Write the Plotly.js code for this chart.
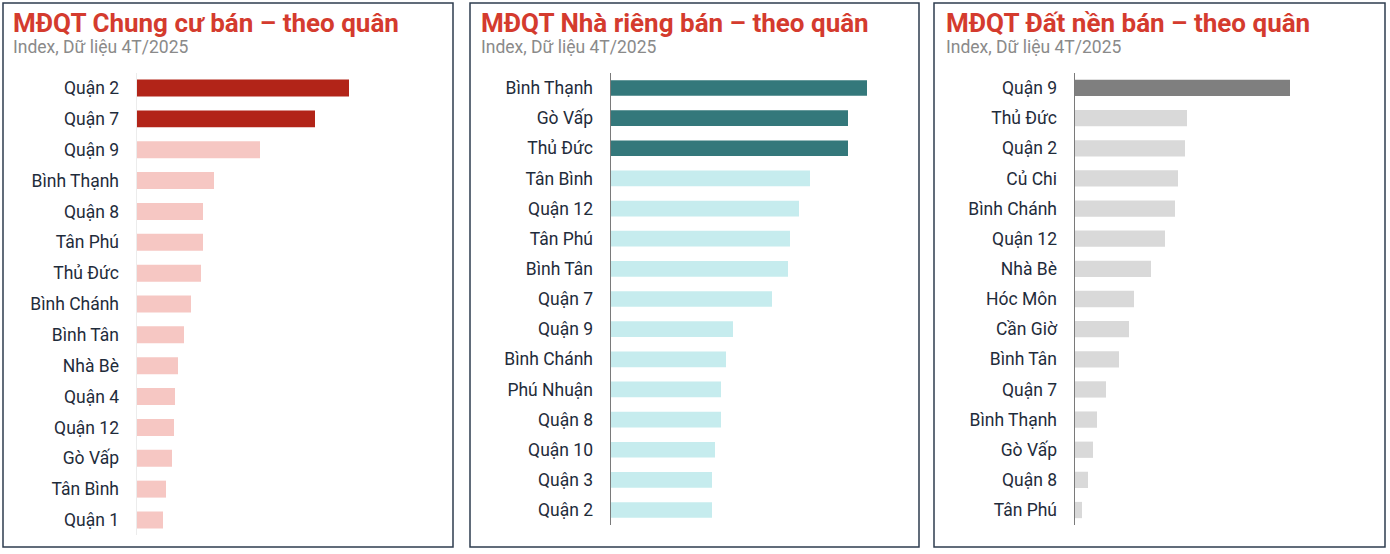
<!DOCTYPE html>
<html>
<head>
<meta charset="utf-8">
<script src="https://cdn.plot.ly/plotly-3.0.1.min.js"></script>
<style>
  html, body { margin: 0; padding: 0; background: #ffffff; }
  #chart { width: 1390px; height: 554px; }
</style>
</head>
<body>
<div id="chart"></div>
<script>
// ---- Data (index values) ----
const chungCuDistricts = ['Quận 2','Quận 7','Quận 9','Bình Thạnh','Quận 8','Tân Phú','Thủ Đức','Bình Chánh','Bình Tân','Nhà Bè','Quận 4','Quận 12','Gò Vấp','Tân Bình','Quận 1'];
const chungCuValues    = [212,178,123,77,66,66,64,54,47,41,38,37,35,29,26];
const chungCuHighlight = 2;

const nhaRiengDistricts = ['Bình Thạnh','Gò Vấp','Thủ Đức','Tân Bình','Quận 12','Tân Phú','Bình Tân','Quận 7','Quận 9','Bình Chánh','Phú Nhuận','Quận 8','Quận 10','Quận 3','Quận 2'];
const nhaRiengValues    = [256,237,237,199,188,179,177,161,122,115,110,110,104,101,101];
const nhaRiengHighlight = 3;

const datNenDistricts = ['Quận 9','Thủ Đức','Quận 2','Củ Chi','Bình Chánh','Quận 12','Nhà Bè','Hóc Môn','Cần Giờ','Bình Tân','Quận 7','Bình Thạnh','Gò Vấp','Quận 8','Tân Phú'];
const datNenValues    = [215,112,110,103,100,90,76,59,54,44,31,22,18,13,7];
const datNenHighlight = 1;

const panelTitles = ['MĐQT Chung cư bán – theo quân','MĐQT Nhà riêng bán – theo quân','MĐQT Đất nền bán – theo quân'];
const panelSubtitle = 'Index, Dữ liệu 4T/2025';

// ---- Layout helpers ----
const W = 1390, H = 554;
const px = v => v / W;
const py = v => 1 - v / H;

function colors(n, k, dark, light) {
  return Array.from({length: n}, (_, i) => i < k ? dark : light);
}

const traces = [
  {
    type: 'bar', orientation: 'h',
    y: chungCuDistricts, x: chungCuValues,
    marker: { color: colors(chungCuValues.length, chungCuHighlight, '#b22418', '#f6c7c3') },
    width: 0.55, xaxis: 'x', yaxis: 'y', hoverinfo: 'x+y'
  },
  {
    type: 'bar', orientation: 'h',
    y: nhaRiengDistricts, x: nhaRiengValues,
    marker: { color: colors(nhaRiengValues.length, nhaRiengHighlight, '#34787b', '#c6ecee') },
    width: 0.52, xaxis: 'x2', yaxis: 'y2', hoverinfo: 'x+y'
  },
  {
    type: 'bar', orientation: 'h',
    y: datNenDistricts, x: datNenValues,
    marker: { color: colors(datNenValues.length, datNenHighlight, '#7f7f7f', '#d9d9d9') },
    width: 0.54, xaxis: 'x3', yaxis: 'y3', hoverinfo: 'x+y'
  }
];

const tickFont = { family: 'Roboto, sans-serif', size: 17.5, color: '#1f2c3b' };

function xAxis(d0, d1, range) {
  return { domain: [px(d0), px(d1)], range: [0, range], showgrid: false, zeroline: false,
           showticklabels: false, showline: false, ticks: '', fixedrange: true };
}
function yAxis(anchor, top, bottom, lineColor) {
  return { anchor: anchor, domain: [py(bottom), py(top)], type: 'category',
           autorange: 'reversed', showgrid: false, zeroline: false,
           showline: true, linecolor: lineColor, linewidth: 1.5,
           ticks: '', ticklabelstandoff: 13, tickfont: tickFont, fixedrange: true };
}

const boxes = [[3, 453], [470, 919], [934, 1385]];
const titleX = [11, 479, 944];

const shapes = boxes.map(b => ({
  type: 'rect', xref: 'paper', yref: 'paper',
  x0: px(b[0]), x1: px(b[1]), y0: py(547), y1: py(3),
  line: { color: '#2e3d4f', width: 1.5 }, fillcolor: 'rgba(0,0,0,0)'
}));

const annotations = [];
titleX.forEach((tx, i) => {
  annotations.push({
    xref: 'paper', yref: 'paper', x: px(tx), y: py(6), xanchor: 'left', yanchor: 'top',
    text: '<b>' + panelTitles[i] + '</b>', showarrow: false,
    font: { family: 'Roboto, sans-serif', size: 26, color: '#d43b2e' }
  });
  annotations.push({
    xref: 'paper', yref: 'paper', x: px(tx), y: py(35), xanchor: 'left', yanchor: 'top',
    text: panelSubtitle, showarrow: false,
    font: { family: 'Roboto, sans-serif', size: 17.5, color: '#8a8a8a' }
  });
});

const layout = {
  width: W, height: H,
  margin: { l: 0, r: 0, t: 0, b: 0 },
  paper_bgcolor: '#ffffff', plot_bgcolor: '#ffffff',
  showlegend: false, bargap: 0.45,
  xaxis:  xAxis(137, 440, 303),
  xaxis2: xAxis(611, 905, 294),
  xaxis3: xAxis(1075, 1370, 295),
  yaxis:  yAxis('x', 72.6, 535.4, '#ececec'),
  yaxis2: yAxis('x2', 72.9, 525.1, '#7a7a7a'),
  yaxis3: yAxis('x3', 72.9, 525.1, '#7a7a7a'),
  shapes: shapes,
  annotations: annotations
};

Plotly.newPlot('chart', traces, layout, { displayModeBar: false, staticPlot: true });
</script>
</body>
</html>
